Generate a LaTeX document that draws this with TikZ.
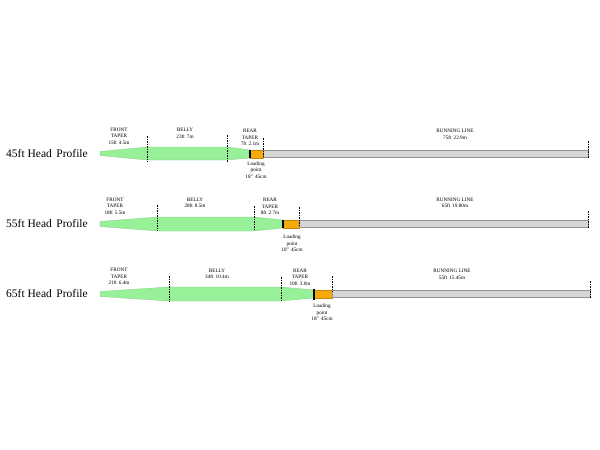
\documentclass[tikz,border=0pt]{standalone}
\usepackage{fontspec}
\setmainfont{Liberation Serif}
\usetikzlibrary{positioning}
\definecolor{headgreen}{RGB}{152,240,152}
\definecolor{loadorange}{RGB}{245,170,10}
\definecolor{runninggrey}{RGB}{214,214,214}

\begin{document}
\begin{tikzpicture}[x=1pt, y=-1pt,
    head/.style={anchor=west, inner sep=0pt, font=\fontsize{11.5}{12}\selectfont},
    seglabel/.style={align=center, inner sep=0pt, font=\fontsize{5.2}{6.5}\selectfont},
    headline/.style={fill=headgreen, draw=headgreen!85!black, line width=0.3pt},
    loading/.style={fill=loadorange, draw=loadorange!80!black, line width=0.3pt},
    running/.style={fill=runninggrey, draw=gray!85, line width=0.5pt},
    splitline/.style={dash pattern=on 1.5pt off 1pt, line width=0.7pt},
    joint/.style={line width=1.1pt}
]
\useasboundingbox (0,0) rectangle (600,450);

% 45ft head
\node[head] (head45) at (6,153.5) {45ft Head\hspace{0.15em} Profile};
\filldraw[headline] (100,151.5) -- (147,147) -- (227,147) -- (250,150) -- (250,158) -- (227,160) -- (147,160) -- (100,155.5) -- cycle;
\filldraw[loading] (250,150) rectangle (263,158);
\filldraw[running] (263,150.5) rectangle (588,157.5);
\draw[joint] (250,150) -- (250,158);
\draw[splitline] (147,136) -- (147,162);
\draw[splitline] (227,135) -- (227,162);
\draw[splitline] (263,138) -- (263,158);
\draw[splitline] (588,141) -- (588,158);
\node[seglabel] (front45) at (119,136) {FRONT\\TAPER\\15ft\hspace{0.4em}4.5m};
\node[seglabel] (belly45) at (185,133.5) {BELLY\\23ft\hspace{0.4em}7m};
\node[seglabel] (rear45) at (250,137.5) {REAR\\TAPER\\7ft\hspace{0.4em}2.1m};
\node[seglabel] (run45) at (455,134.5) {RUNNING LINE\\75ft\hspace{0.4em}22.9m};
\node[seglabel] (load45) at (256,170) {Loading\\point\\18"\hspace{0.4em}45cm};

% 55ft head
\node[head] (head55) at (6,224) {55ft Head\hspace{0.15em} Profile};
\filldraw[headline] (100,221.5) -- (157,217) -- (254,217) -- (283,220) -- (283,228) -- (254,231) -- (157,231) -- (100,226.5) -- cycle;
\filldraw[loading] (283,220) rectangle (299,228);
\filldraw[running] (299,220.5) rectangle (588,227.5);
\draw[joint] (283,220) -- (283,228);
\draw[splitline] (157,205) -- (157,231);
\draw[splitline] (254,206) -- (254,231);
\draw[splitline] (299,207) -- (299,225);
\draw[splitline] (588,211) -- (588,228);
\node[seglabel] (front55) at (115,206) {FRONT\\TAPER\\18ft\hspace{0.4em}5.5m};
\node[seglabel] (belly55) at (195,203) {BELLY\\28ft\hspace{0.4em}8.5m};
\node[seglabel] (rear55) at (270,206.5) {REAR\\TAPER\\8ft\hspace{0.4em}2.7m};
\node[seglabel] (run55) at (455,203) {RUNNING LINE\\65ft\hspace{0.4em}19.80m};
\node[seglabel] (load55) at (292,243.5) {Loading\\point\\18"\hspace{0.4em}45cm};

% 65ft head
\node[head] (head65) at (6,294) {65ft Head\hspace{0.15em} Profile};
\filldraw[headline] (100,291.5) -- (169,287) -- (281,287) -- (314,290) -- (314,298) -- (281,301) -- (169,301) -- (100,296.5) -- cycle;
\filldraw[loading] (314,290) rectangle (332,298);
\filldraw[running] (332,290.5) rectangle (590,297.5);
\draw[joint] (314,289) -- (314,300);
\draw[splitline] (169,276) -- (169,302);
\draw[splitline] (281,277) -- (281,302);
\draw[splitline] (332,276) -- (332,292);
\draw[splitline] (590,281) -- (590,298);
\node[seglabel] (front65) at (119,276.5) {FRONT\\TAPER\\21ft\hspace{0.4em}6.4m};
\node[seglabel] (belly65) at (217,274) {BELLY\\34ft\hspace{0.4em}10.4m};
\node[seglabel] (rear65) at (300,277) {REAR\\TAPER\\10ft\hspace{0.4em}3.0m};
\node[seglabel] (run65) at (452,274.5) {RUNNING LINE\\55ft\hspace{0.4em}15.45m};
\node[seglabel] (load65) at (322,312.5) {Loading\\point\\18"\hspace{0.4em}45cm};
\end{tikzpicture}
\end{document}
